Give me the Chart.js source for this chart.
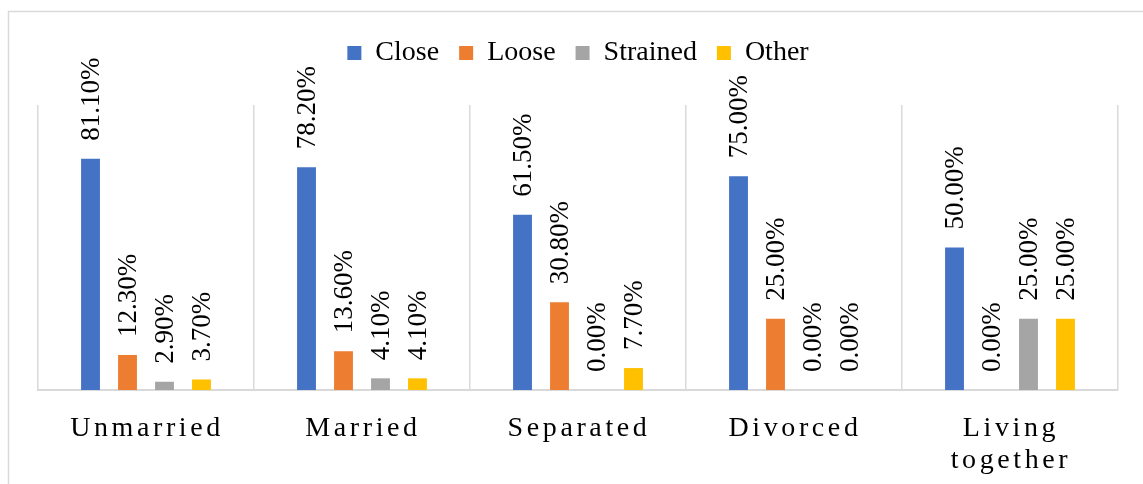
<!DOCTYPE html>
<html>
<head>
<meta charset="utf-8">
<script src="https://cdn.jsdelivr.net/npm/chart.js@4"></script>
<style>
  html, body { margin: 0; padding: 0; background: #fff; }
  #wrap { width: 1143px; height: 484px; position: relative; }
</style>
</head>
<body>
<div id="wrap"><canvas id="myChart" width="1143" height="484"></canvas></div>
<script>
// values (percent)
const categories = [['Unmarried'], ['Married'], ['Separated'], ['Divorced'], ['Living', 'together']];
const close = [81.1, 78.2, 61.5, 75.0, 50.0];
const loose = [12.3, 13.6, 30.8, 25.0, 0.0];
const strained = [2.9, 4.1, 0.0, 0.0, 25.0];
const other = [3.7, 4.1, 7.7, 0.0, 25.0];

const serif = "'Liberation Serif', 'Times New Roman', serif";

// grey frame around the figure
const frame = {
	id: 'frame',
	beforeDraw(chart) {
		const ctx = chart.ctx;
		ctx.save();
		ctx.strokeStyle = '#d9d9d9';
		ctx.lineWidth = 1.5;
		ctx.beginPath();
		ctx.moveTo(8.5, 484);
		ctx.lineTo(8.5, 11.5);
		ctx.lineTo(1143, 11.5);
		ctx.stroke();
		ctx.restore();
	},
};

// rotated value labels above each bar
const barLabels = {
	id: 'barLabels',
	afterDatasetsDraw(chart) {
		const ctx = chart.ctx;
		ctx.save();
		ctx.font = '27px ' + serif;
		ctx.fillStyle = '#000';
		ctx.textAlign = 'left';
		ctx.textBaseline = 'middle';
		chart.data.datasets.forEach((ds, i) => {
			chart.getDatasetMeta(i).data.forEach((bar, j) => {
				ctx.save();
				ctx.translate(bar.x + 1, bar.y - 18);
				ctx.rotate(-Math.PI / 2);
				ctx.fillText(ds.data[j].toFixed(2) + '%', 0, 0);
				ctx.restore();
			});
		});
		ctx.restore();
	},
};

// category names, spaced out like the original
const catLabels = {
	id: 'catLabels',
	afterDraw(chart) {
		const ctx = chart.ctx;
		const xs = chart.scales.x;
		ctx.save();
		ctx.font = '28px ' + serif;
		ctx.fillStyle = '#000';
		ctx.textAlign = 'center';
		ctx.textBaseline = 'alphabetic';
		ctx.letterSpacing = '3.6px';
		categories.forEach((lines, i) => {
			const x = xs.getPixelForValue(i) + 1;
			lines.forEach((t, k) => {
				ctx.fillText(t, x, xs.bottom + 46 + k * 32);
			});
		});
		ctx.restore();
	},
};

// extra room under the legend
const legendGap = {
	id: 'legendGap',
	beforeInit(chart) {
		const fit = chart.legend.fit;
		chart.legend.fit = function () {
			fit.bind(chart.legend)();
			this.height += 28;
		};
	},
};

new Chart(document.getElementById('myChart'), {
	type: 'bar',
	data: {
		labels: categories.map((c) => c.join(' ')),
		datasets: [
			{ label: 'Close', data: close, backgroundColor: '#4472C4' },
			{ label: 'Loose', data: loose, backgroundColor: '#ED7D31' },
			{ label: 'Strained', data: strained, backgroundColor: '#A5A5A5' },
			{ label: 'Other', data: other, backgroundColor: '#FFC000' },
		],
	},
	options: {
		responsive: false,
		animation: false,
		categoryPercentage: 0.685,
		barPercentage: 0.51,
		layout: { padding: { left: 38, right: 25, top: 19, bottom: 94 } },
		plugins: {
			tooltip: { enabled: false },
			legend: {
				position: 'top',
				labels: {
					font: { family: serif, size: 28 },
					color: '#000',
					boxWidth: 14,
					boxHeight: 14,
					padding: 20,
				},
			},
		},
		scales: {
			x: {
				grid: { display: true, offset: true, color: '#d9d9d9', lineWidth: 1.5, drawTicks: false },
				border: { display: true, color: '#d9d9d9', width: 2 },
				ticks: { display: false },
			},
			y: {
				display: false,
				min: 0,
				max: 100,
			},
		},
	},
	plugins: [frame, barLabels, catLabels, legendGap],
});
</script>
</body>
</html>
